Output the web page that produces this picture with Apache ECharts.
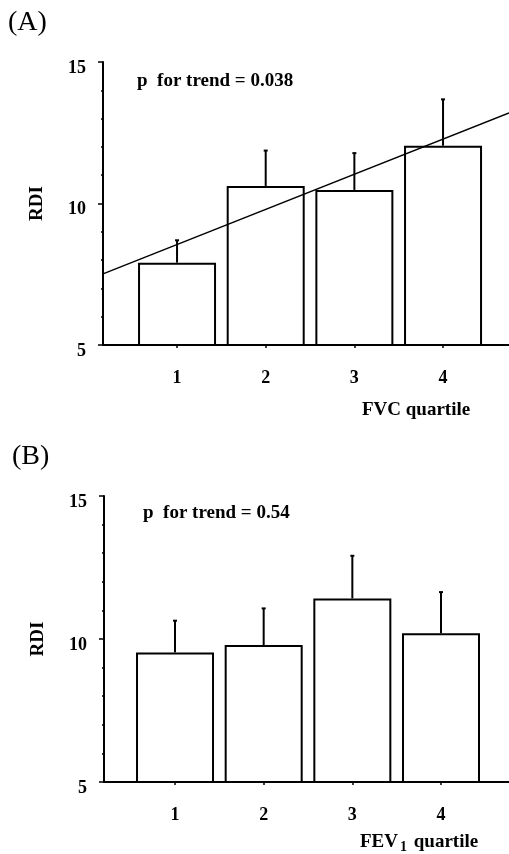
<!DOCTYPE html>
<html>
<head>
<meta charset="utf-8">
<script src="https://cdn.jsdelivr.net/npm/echarts@6/dist/echarts.min.js"></script>
<style>html,body{margin:0;padding:0;background:#fff}#c{width:509px;height:854px}</style>
</head>
<body>
<div id="c"></div>
<script>
// ---- data ----
var quartiles = [1, 2, 3, 4];
var fvcMean = [7.91, 10.62, 10.48, 12.04];
var fvcUpper = [8.70, 11.87, 11.78, 13.68];
var fevMean = [9.53, 9.79, 11.42, 10.20];
var fevUpper = [10.64, 11.07, 12.91, 11.64];
var trendX = [0.165, 4.744];
var trendY = [7.51, 13.20];
var yTicks = [5, 10, 15];
var pTextA = 'p  for trend = 0.038';
var pTextB = 'p  for trend = 0.54';

var FONT = '"Liberation Serif", "DejaVu Serif", serif';

function pairs(xs, ys) { return xs.map(function (x, i) { return [x, ys[i]]; }); }
function triples(xs, a, b) { return xs.map(function (x, i) { return [x, a[i], b[i]]; }); }

function xAxisCfg(gi, min, max) {
  return {
    gridIndex: gi, type: 'value', min: min, max: max,
    axisLine: { show: true, onZero: false, lineStyle: { color: '#000', width: 2 } },
    axisTick: { show: true, customValues: quartiles, length: 3, lineStyle: { color: '#000', width: 1.5 } },
    axisLabel: { customValues: quartiles, color: '#000', fontFamily: FONT, fontWeight: 'bold', fontSize: 18, margin: 24 },
    splitLine: { show: false }
  };
}
function yAxisCfg(gi) {
  return {
    gridIndex: gi, type: 'value', min: 5, max: 15, interval: 5,
    axisLine: { show: true, lineStyle: { color: '#000', width: 2 } },
    axisTick: { show: true, length: 5, lineStyle: { color: '#000', width: 1.5 } },
    minorTick: { show: true, splitNumber: 5, length: 2, lineStyle: { color: '#000', width: 1.5 } },
    axisLabel: { color: '#000', fontFamily: FONT, fontWeight: 'bold', fontSize: 18, margin: 17,
      verticalAlign: 'top', lineHeight: 12,
      formatter: function (v) { return yTicks.indexOf(v) >= 0 ? String(v) : ''; } },
    splitLine: { show: false },
    name: 'RDI', nameLocation: 'middle', nameRotate: 90, nameGap: 56,
    nameTextStyle: { color: '#000', fontFamily: FONT, fontWeight: 'bold', fontSize: 19 }
  };
}
function barSeries(gi, vals) {
  return {
    type: 'bar', xAxisIndex: gi, yAxisIndex: gi, barWidth: 78, z: 2,
    data: pairs(quartiles, vals),
    itemStyle: { color: '#fff', borderColor: '#000', borderWidth: 2 },
    silent: true
  };
}
function errSeries(gi, m, u) {
  return {
    type: 'custom', xAxisIndex: gi, yAxisIndex: gi, z: 3,
    data: triples(quartiles, m, u),
    encode: { x: 0, y: [1, 2] },
    renderItem: function (params, api) {
      var p0 = api.coord([api.value(0), api.value(1)]);
      var p1 = api.coord([api.value(0), api.value(2)]);
      var st = { stroke: '#000', lineWidth: 2 };
      return { type: 'group', children: [
        { type: 'line', shape: { x1: p0[0], y1: p0[1], x2: p1[0], y2: p1[1] }, style: st },
        { type: 'line', shape: { x1: p1[0] - 2, y1: p1[1], x2: p1[0] + 2, y2: p1[1] }, style: st }
      ] };
    },
    silent: true
  };
}

var chart = echarts.init(document.getElementById('c'), null, { renderer: 'canvas' });
chart.setOption({
  backgroundColor: '#fff',
  animation: false,
  grid: [
    { left: 103, top: 62, width: 406, height: 283 },
    { left: 104, top: 496, width: 405, height: 286 }
  ],
  xAxis: [xAxisCfg(0, 0.165, 4.744), xAxisCfg(1, 0.199, 4.767)],
  yAxis: [yAxisCfg(0), yAxisCfg(1)],
  series: [
    barSeries(0, fvcMean),
    errSeries(0, fvcMean, fvcUpper),
    {
      type: 'line', xAxisIndex: 0, yAxisIndex: 0, z: 4, symbol: 'none',
      data: pairs(trendX, trendY),
      lineStyle: { color: '#000', width: 1.4 }, silent: true
    },
    barSeries(1, fevMean),
    errSeries(1, fevMean, fevUpper)
  ],
  graphic: [
    { type: 'text', left: 8, top: 9, style: { text: '(A)', fill: '#000', font: '28px ' + FONT } },
    { type: 'text', left: 12, top: 443, style: { text: '(B)', fill: '#000', font: '28px ' + FONT } },
    { type: 'text', left: 137, top: 72, style: { text: pTextA, fill: '#000', font: 'bold 19px ' + FONT } },
    { type: 'text', left: 143, top: 504, style: { text: pTextB, fill: '#000', font: 'bold 19px ' + FONT } },
    { type: 'text', left: 362, top: 401, style: { text: 'FVC quartile', fill: '#000', font: 'bold 19px ' + FONT } },
    { type: 'text', left: 360, top: 833, style: {
      text: '{a|FEV}{s|1}{a| quartile}',
      rich: {
        a: { fill: '#000', fontFamily: FONT, fontWeight: 'bold', fontSize: 19 },
        s: { fill: '#000', fontFamily: FONT, fontWeight: 'bold', fontSize: 14, padding: [10, 2, 0, 2] }
      } } }
  ]
});
</script>
</body>
</html>
